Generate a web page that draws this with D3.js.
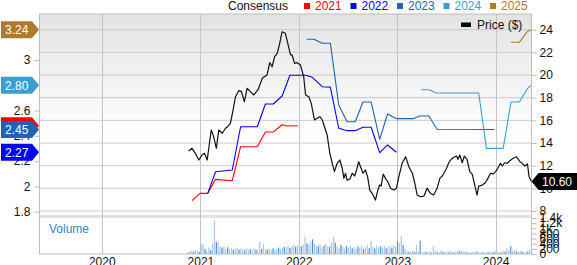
<!DOCTYPE html>
<html><head><meta charset="utf-8">
<script src="https://cdn.jsdelivr.net/npm/d3@7"></script>
<style>body{margin:0;background:#fff}svg{display:block;font-family:"Liberation Sans",Arial,sans-serif}</style>
</head><body><svg id="c" width="577" height="265"></svg>
<script>
// ---------- DATA ----------
const yearTicks = ["2020","2021","2022","2023","2024"];
const priceTicks = [8,10,12,14,16,18,20,22,24];
const consensusTicks = [1.8,2,2.2,2.4,2.6,2.8,3];
const volumeTicks = [0,200,400,600,800,1000,1200,1400];
const volumeTickLabels = ["0","200","400","600","800","1k","1.2k","1.4k"];
const legendLabels = ["2021","2022","2023","2024","2025"];

const cons2021 = [["2020-12-01",1.887],["2020-12-30",1.945],["2021-01-28",1.945],["2021-02-26",2.056],["2021-04-29",2.045],["2021-05-30",2.314],["2021-07-31",2.314],["2021-08-30",2.430],["2021-09-28",2.430],["2021-10-31",2.488],["2021-11-19",2.478],["2021-12-28",2.48]];
const cons2022 = [["2021-01-28",1.945],["2021-02-26",2.116],["2021-04-29",2.130],["2021-05-30",2.472],["2021-07-31",2.472],["2021-08-30",2.652],["2021-09-28",2.652],["2021-10-31",2.715],["2021-11-29",2.879],["2022-01-26",2.879],["2022-02-20",2.863],["2022-03-29",2.789],["2022-04-28",2.784],["2022-05-29",2.460],["2022-06-29",2.441],["2022-07-29",2.441],["2022-08-27",2.468],["2022-09-26",2.468],["2022-10-28",2.267],["2022-11-26",2.328],["2022-12-29",2.27]];
const cons2023 = [["2022-01-30",3.164],["2022-02-26",3.164],["2022-03-29",3.132],["2022-04-28",3.132],["2022-05-29",2.644],["2022-06-29",2.512],["2022-07-29",2.512],["2022-08-27",2.668],["2022-09-26",2.668],["2022-10-28",2.373],["2022-11-26",2.573],["2022-12-29",2.536],["2023-03-01",2.536],["2023-03-25",2.557],["2023-04-28",2.557],["2023-05-29",2.452],["2023-12-28",2.45]];
const cons2024 = [["2023-03-30",2.765],["2023-04-28",2.765],["2023-05-26",2.739],["2023-10-30",2.739],["2023-11-28",2.301],["2024-01-29",2.301],["2024-02-27",2.668],["2024-03-29",2.668],["2024-04-29",2.776],["2024-05-11",2.80]];
const cons2025 = [["2024-02-27",3.140],["2024-03-29",3.140],["2024-04-27",3.224],["2024-05-11",3.24]];

const price = [["2020-11-18",13.29],["2020-12-01",13.53],["2020-12-13",13.09],["2020-12-26",12.50],["2021-01-07",12.94],["2021-01-16",13.09],["2021-01-26",12.50],["2021-02-10",15.15],["2021-02-19",14.56],["2021-03-01",13.53],["2021-03-10",15.15],["2021-03-23",14.86],["2021-04-04",15.30],["2021-04-12",15.44],["2021-04-22",15.74],["2021-05-02",16.91],["2021-05-11",18.09],["2021-05-23",18.62],["2021-06-02",18.53],["2021-06-13",17.65],["2021-06-23",18.83],["2021-07-05",18.53],["2021-07-18",18.24],["2021-08-02",18.68],["2021-08-12",19.27],["2021-08-18",19.71],["2021-08-26",19.85],["2021-09-05",20.00],["2021-09-15",21.09],["2021-09-24",20.73],["2021-10-03",21.62],["2021-10-13",21.92],["2021-10-22",22.80],["2021-10-31",23.82],["2021-11-12",23.68],["2021-11-21",22.80],["2021-12-01",21.77],["2021-12-07",21.77],["2021-12-16",21.03],["2021-12-26",21.09],["2022-01-07",20.88],["2022-01-19",19.85],["2022-01-26",18.24],["2022-02-07",18.09],["2022-02-16",17.50],["2022-02-28",16.03],["2022-03-10",16.18],["2022-03-20",16.32],["2022-03-29",16.03],["2022-04-06",15.44],["2022-04-16",14.71],["2022-04-26",13.09],["2022-05-05",12.21],["2022-05-13",11.47],["2022-05-23",12.21],["2022-06-02",12.50],["2022-06-11",11.77],["2022-06-17",10.88],["2022-06-23",11.33],["2022-06-29",10.73],["2022-07-09",10.80],["2022-07-18",11.33],["2022-07-27",11.09],["2022-08-03",11.62],["2022-08-11",12.35],["2022-08-20",11.77],["2022-08-27",11.33],["2022-09-05",11.62],["2022-09-13",11.03],["2022-09-21",9.85],["2022-09-30",9.56],["2022-10-12",8.97],["2022-10-21",9.85],["2022-10-28",10.29],["2022-11-02",10.20],["2022-11-10",11.26],["2022-11-18",10.88],["2022-11-27",10.58],["2022-12-07",10.00],["2022-12-19",9.85],["2022-12-29",10.00],["2023-01-07",11.03],["2023-01-19",12.21],["2023-02-01",12.79],["2023-02-09",12.21],["2023-02-13",11.91],["2023-02-26",11.33],["2023-03-06",10.58],["2023-03-16",9.41],["2023-03-28",9.26],["2023-04-10",9.32],["2023-04-22",10.00],["2023-05-04",9.56],["2023-05-16",9.41],["2023-05-29",10.00],["2023-06-08",10.88],["2023-06-17",11.09],["2023-06-23",11.33],["2023-07-03",11.77],["2023-07-11",12.26],["2023-07-20",12.56],["2023-07-30",12.74],["2023-08-09",12.85],["2023-08-14",12.56],["2023-08-21",12.94],["2023-08-30",12.26],["2023-09-07",12.85],["2023-09-17",12.56],["2023-09-27",11.47],["2023-10-06",11.26],["2023-10-14",10.44],["2023-10-24",9.41],["2023-10-30",10.20],["2023-11-12",10.29],["2023-11-24",10.50],["2023-12-03",10.88],["2023-12-13",11.33],["2023-12-23",11.26],["2024-01-01",11.47],["2024-01-09",11.77],["2024-01-19",12.21],["2024-01-26",11.97],["2024-02-03",12.26],["2024-02-13",12.21],["2024-02-23",12.44],["2024-03-06",12.65],["2024-03-18",12.79],["2024-03-31",12.35],["2024-04-09",12.21],["2024-04-18",11.97],["2024-04-28",12.15],["2024-05-04",11.03],["2024-05-10",10.73],["2024-05-13",10.60]];

const volumeStart = "2020-11-16"; // weekly bars from this date
const volume = [60,100,130,90,150,110,80,400,360,200,
120,260,150,420,1300,480,450,300,250,300,
200,260,180,220,160,200,250,170,210,180,
150,220,160,190,140,230,170,150,480,200,
400,160,180,200,150,220,170,200,250,190,
230,280,260,320,240,300,350,280,330,350,
300,380,670,420,360,480,570,400,330,300,
380,260,320,400,300,280,420,670,450,300,
240,360,280,220,300,250,330,220,270,200,
300,240,320,200,260,350,230,520,280,220,
340,260,300,240,330,220,280,300,250,350,
300,480,420,700,350,200,120,80,100,120,
90,350,110,520,80,60,90,70,100,60,
300,120,80,60,140,90,70,100,60,120,
80,60,90,150,110,130,90,70,100,60,
50,80,60,90,70,50,60,80,50,70,
60,90,70,110,80,60,90,130,100,220,
150,300,120,160,100,80,120,90,70,60,
100,180,90];

// ---------- LAYOUT ----------
const L = 39.5, R = 531.5, T = 14, PB = 215, VT = 218, VB = 254;
const colors = ["#ff0000","#0000ff","#1f63b5","#3a9fd0","#b07a2e"];
const series = [cons2021, cons2022, cons2023, cons2024, cons2025];
const font = 12;

const svg = d3.select("#c");
const x = d3.scaleUtc().domain([new Date("2019-05-15"), new Date("2024-05-13")]).range([L, R]);
const yP = d3.scaleLinear().domain([8, 24]).range([211, 29.7]);
const yC = d3.scaleLinear().domain([1.8, 3]).range([211.7, 60]);
const yV = d3.scaleLinear().domain([0, 1400]).range([VB, VT]);

const defs = svg.append("defs");
const grad = defs.append("linearGradient").attr("id", "bg").attr("x1", 0).attr("x2", 0).attr("y1", 0).attr("y2", 1);
grad.append("stop").attr("offset", "0%").attr("stop-color", "#e3e3e3");
grad.append("stop").attr("offset", "60%").attr("stop-color", "#ffffff");
grad.append("stop").attr("offset", "100%").attr("stop-color", "#ffffff");
defs.append("clipPath").attr("id", "clipP").append("rect").attr("x", L).attr("y", T).attr("width", R - L).attr("height", PB - T);

svg.append("rect").attr("x", L).attr("y", T).attr("width", R - L).attr("height", PB - T).attr("fill", "url(#bg)");

// horizontal gridlines (price)
svg.append("g").selectAll("line").data(priceTicks).join("line")
  .attr("x1", L).attr("x2", R).attr("y1", d => yP(d)).attr("y2", d => yP(d))
  .attr("stroke", "#cacaca");

// separator band
svg.append("rect").attr("x", L).attr("y", PB).attr("width", R - L).attr("height", VT - PB).attr("fill", "#e2e2e2");

// vertical year gridlines
svg.append("g").selectAll("line").data(yearTicks).join("line")
  .attr("x1", d => Math.round(x(new Date(d + "-01-01"))) + 0.5).attr("x2", d => Math.round(x(new Date(d + "-01-01"))) + 0.5)
  .attr("y1", T).attr("y2", VB).attr("stroke", "#c4c4c4");

// volume bars
const vStart = new Date(volumeStart);
svg.append("g").selectAll("rect").data(volume).join("rect")
  .attr("x", (d, i) => x(d3.utcWeek.offset(vStart, i)) - 0.6)
  .attr("width", 1.2)
  .attr("y", d => yV(d)).attr("height", d => VB - yV(d))
  .attr("fill", (d, i) => (i % 3 === 0 ? "#4b92d4" : "#a6c9ea"));

// borders
const bc = "#bdbdbd";
svg.append("line").attr("x1", L).attr("x2", L).attr("y1", T).attr("y2", VB).attr("stroke", bc);
svg.append("line").attr("x1", R).attr("x2", R).attr("y1", T).attr("y2", VB).attr("stroke", bc);
svg.append("line").attr("x1", L).attr("x2", R).attr("y1", T).attr("y2", T).attr("stroke", bc);
svg.append("line").attr("x1", L).attr("x2", R).attr("y1", VB).attr("y2", VB).attr("stroke", bc);

// axes
function styleAxis(g) {
  g.select(".domain").remove();
  g.selectAll(".tick line").attr("stroke", "#bdbdbd");
  g.selectAll(".tick text").attr("fill", "#111").attr("font-size", font).attr("font-family", '"Liberation Sans",Arial,sans-serif');
}
svg.append("g").attr("transform", `translate(${R},0)`)
  .call(d3.axisRight(yP).tickValues(priceTicks).tickSize(5).tickPadding(3)).call(styleAxis);
svg.append("g").attr("transform", `translate(${R},0)`)
  .call(d3.axisRight(yV).tickValues(volumeTicks).tickSize(5).tickPadding(3)
    .tickFormat((d, i) => volumeTickLabels[i])).call(styleAxis);
svg.append("g").attr("transform", `translate(${L},0)`)
  .call(d3.axisLeft(yC).tickValues(consensusTicks).tickSize(5).tickPadding(4)
    .tickFormat(d => String(+d.toFixed(1)))).call(styleAxis);
svg.append("g").attr("transform", `translate(0,${VB})`)
  .call(d3.axisBottom(x).tickValues(yearTicks.map(d => new Date(d + "-01-01"))).tickSize(0).tickPadding(3.5)
    .tickFormat(d3.utcFormat("%Y"))).call(styleAxis);

// lines
const plot = svg.append("g").attr("clip-path", "url(#clipP)");
const cLine = d3.line().x(d => x(new Date(d[0]))).y(d => yC(d[1]));
series.forEach((s, i) => {
  plot.append("path").datum(s).attr("d", cLine).attr("fill", "none")
    .attr("stroke", colors[i]).attr("stroke-width", 1.1).attr("stroke-linejoin", "round");
});
const pLine = d3.line().x(d => x(new Date(d[0]))).y(d => yP(d[1]));
plot.append("path").datum(price).attr("d", pLine).attr("fill", "none")
  .attr("stroke", "#111").attr("stroke-width", 1.2).attr("stroke-linejoin", "round");

// left badges
const badgeOrder = [0, 4, 3, 2, 1];
badgeOrder.forEach(i => {
  const v = series[i][series[i].length - 1][1];
  const yy = yC(v);
  const g = svg.append("g");
  g.append("path").attr("d", `M1,${yy - 8.5}H32L39,${yy}L32,${yy + 8.5}H1Z`).attr("fill", colors[i]);
  g.append("text").attr("x", 5).attr("y", yy).attr("dy", "0.36em").attr("fill", "#fff")
    .attr("font-size", font).text(v.toFixed(2));
});

// right price badge
{
  const v = price[price.length - 1][1];
  const yy = yP(v);
  svg.append("path").attr("d", `M${R},${yy}L${R + 7},${yy - 8.5}H577V${yy + 8.5}H${R + 7}Z`).attr("fill", "#000");
  svg.append("text").attr("x", 542).attr("y", yy).attr("dy", "0.36em").attr("fill", "#fff")
    .attr("font-size", font).text(v.toFixed(2));
}

// top legend
svg.append("text").attr("x", 228).attr("y", 10).attr("font-size", font).attr("fill", "#111").text("Consensus");
legendLabels.forEach((lab, i) => {
  const tx = 315 + i * 46.5;
  svg.append("rect").attr("x", tx - 11).attr("y", 3).attr("width", 6).attr("height", 6).attr("fill", colors[i]);
  svg.append("text").attr("x", tx).attr("y", 10).attr("font-size", font).attr("fill", colors[i]).text(lab);
});

// price legend
svg.append("rect").attr("x", 461).attr("y", 22.5).attr("width", 10).attr("height", 4.5).attr("fill", "#000");
svg.append("text").attr("x", 477).attr("y", 29).attr("font-size", font).attr("fill", "#111").text("Price ($)");

// volume label
svg.append("text").attr("x", 49).attr("y", 233).attr("font-size", font).attr("fill", "#2f86d0").text("Volume");
</script></body></html>
